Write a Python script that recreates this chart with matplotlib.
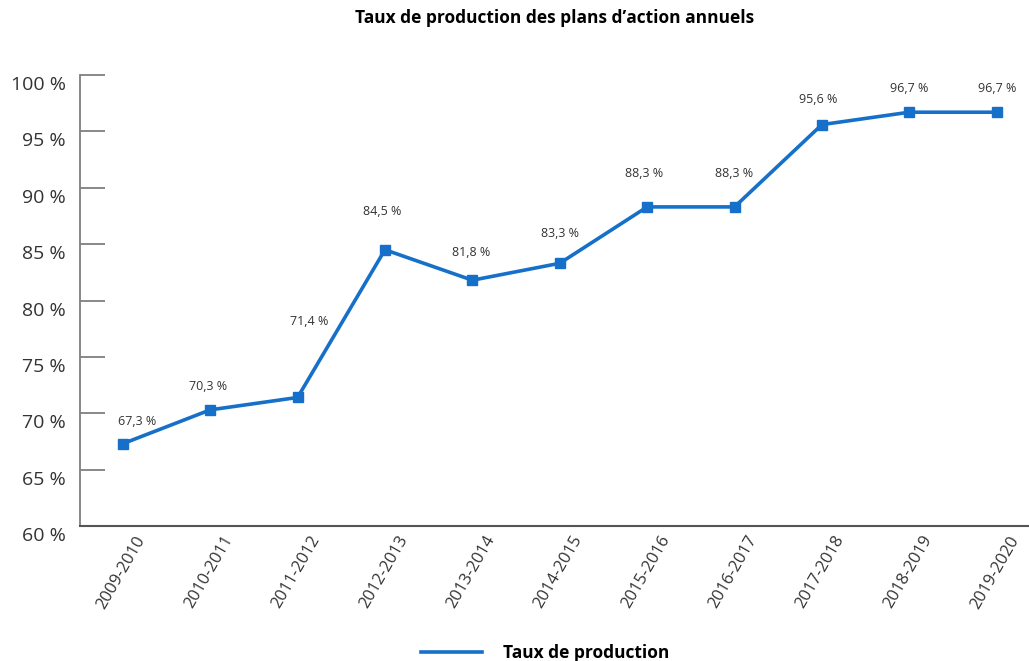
import numpy as np
import matplotlib
matplotlib.use("Agg")
import matplotlib.pyplot as plt
import matplotlib.transforms as mtransforms
from matplotlib.lines import Line2D

# données
periodes = [
    "2009-2010", "2010-2011", "2011-2012", "2012-2013", "2013-2014", "2014-2015",
    "2015-2016", "2016-2017", "2017-2018", "2018-2019", "2019-2020"
]
taux = [67.3, 70.3, 71.4, 84.5, 81.8, 83.3, 88.3, 88.3, 95.6, 96.7, 96.7]
etiquettes = ["67,3 %", "70,3 %", "71,4 %", "84,5 %", "81,8 %", "83,3 %",
              "88,3 %", "88,3 %", "95,6 %", "96,7 %", "96,7 %"]
y_ticks = [60, 65, 70, 75, 80, 85, 90, 95, 100]
y_tick_labels = ["60 %", "65 %", "70 %", "75 %", "80 %", "85 %", "90 %", "95 %", "100 %"]

# décalage des étiquettes (pixels) par rapport aux points
label_dx = [14, -2, 12, -3, -1, 0, -3, 0, -4, 0, 1]
label_dy = [22, 23, 76, 38, 28, 30, 33, 33, 25, 24, 24]

BLEU = "#1670c9"
GRIS = "#7f7f7f"

plt.rcParams["font.family"] = ["Open Sans", "DejaVu Sans"]

fig = plt.figure(figsize=(10.29, 6.61), dpi=100)
ax = fig.add_axes([80 / 1029, 135 / 661, 949 / 1029, 451 / 661])

x = np.arange(len(periodes))
ax.plot(x, taux, color=BLEU, lw=2.6, marker="s", ms=7,
        markeredgecolor=BLEU, solid_joinstyle="miter")

for xi, yi, lab, dx, dy in zip(x, taux, etiquettes, label_dx, label_dy):
    ax.annotate(lab, (xi, yi), xytext=(dx * 0.72, dy * 0.72),
                textcoords="offset points", ha="center", va="center",
                fontsize=9, color="#333333")

ax.set_xlim(-0.49, 10.37)
ax.set_ylim(60, 100)
ax.set_yticks(y_ticks)
ax.set_yticklabels(y_tick_labels, fontsize=14, color="#333333")
ax.tick_params(axis="y", direction="in", length=18, width=1.3, color=GRIS, pad=10)
y_offset = mtransforms.ScaledTranslation(0, -8 / 100, fig.dpi_scale_trans)
for lbl in ax.get_yticklabels():
    lbl.set_transform(lbl.get_transform() + y_offset)

ax.set_xticks(x)
ax.set_xticklabels(periodes, rotation=60, ha="right", va="top",
                   rotation_mode="anchor", fontsize=12, color="#333333")
ax.tick_params(axis="x", length=0, pad=5)
x_offset = mtransforms.ScaledTranslation(12 / 100, 0, fig.dpi_scale_trans)
for lbl in ax.get_xticklabels():
    lbl.set_transform(lbl.get_transform() + x_offset)

for side in ["top", "right"]:
    ax.spines[side].set_visible(False)
ax.spines["left"].set_color(GRIS)
ax.spines["left"].set_linewidth(1.3)
ax.spines["bottom"].set_color("#555555")
ax.spines["bottom"].set_linewidth(1.5)

fig.text(555 / 1029, 1 - 18 / 661, "Taux de production des plans d\u2019action annuels",
         ha="center", va="center", fontsize=12.5, fontweight="bold")

handle = Line2D([], [], color=BLEU, lw=2.6)
fig.legend([handle], ["Taux de production"], loc="center",
           bbox_to_anchor=(545 / 1029, 8 / 661), frameon=False,
           handlelength=3.5, handletextpad=1.2,
           prop={"size": 12.5, "weight": "bold"})

fig.savefig("out.png", dpi=100)
